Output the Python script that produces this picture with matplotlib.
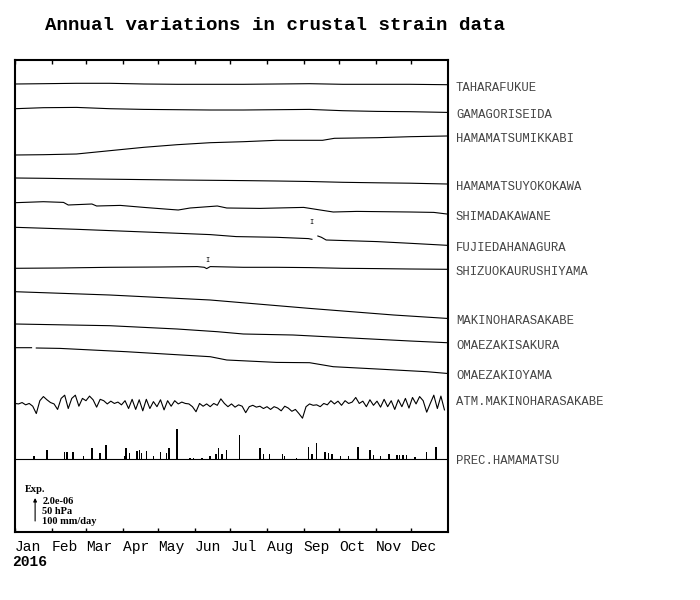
import numpy as np
import matplotlib
matplotlib.use("Agg")
import matplotlib.pyplot as plt
import matplotlib.transforms as mtransforms

# day-of-year month starts (2016 is a leap year)
month_names = ["Jan", "Feb", "Mar", "Apr", "May", "Jun",
               "Jul", "Aug", "Sep", "Oct", "Nov", "Dec"]
month_starts = [0, 31, 60, 91, 121, 152, 182, 213, 244, 274, 305, 335]

# strain traces: change from Jan 1, in plot units (23 units = 2.0e-06)
tahara_days = [0, 24, 52, 80, 109, 137, 165, 193, 221, 249, 277, 306, 334, 365]
tahara_vals = [0, 0.3, 0.7, 0.7, 0, -0.3, -0.3, -0.3, 0, 0.3, -0.3, -0.3, -0.3, -0.7]

gamagori_days = [0, 24, 52, 80, 109, 137, 165, 193, 221, 249, 277, 306, 334, 365]
gamagori_vals = [0, 1, 1.3, 0, -0.7, -1, -1.3, -1.3, -1, -0.7, -2, -2.7, -3, -3.7]

mikkabi_days = [0, 24, 52, 80, 109, 137, 165, 193, 221, 260, 270, 306, 334, 365]
mikkabi_vals = [0, 0.3, 1, 4.3, 7.7, 10.3, 12.3, 13.3, 14.7, 14.7, 16.7, 17.3, 18.3, 19]

yokokawa_days = [0, 24, 52, 80, 109, 137, 165, 193, 221, 249, 277, 306, 334, 365]
yokokawa_vals = [0, -0.3, -0.8, -1.2, -1.6, -2, -2.3, -2.6, -3, -3.5, -4.3, -4.8, -5.2, -6]

shimada_days = [0, 24, 41, 45, 65, 69, 89, 109, 131, 138, 148, 171, 179, 207,
                244, 258, 269, 289, 334, 354, 365]
shimada_vals = [0, 1, 0.3, -2.3, -1.3, -3.3, -2.7, -4.7, -6.7, -7.3, -5.3, -3.3,
                -5.3, -5.7, -4.7, -7.3, -9.3, -8.7, -9.3, -9.7, -11.3]

fujieda_days = [0, 52, 80, 123, 165, 187, 221, 248, 251, 253, 256, 259, 263, 306, 334, 365]
fujieda_vals = [0, -2, -3.3, -5.3, -7.3, -9.3, -10, -11.3, -12, np.nan,
                -8.7, -10, -12.7, -14.3, -16, -18]

urushiyama_days = [0, 38, 80, 123, 154, 160, 162, 165, 193, 221, 249, 277, 306, 334, 365]
urushiyama_vals = [0, 0.3, 1, 1.3, 1.7, 1, -0.3, 1.7, 1, 1, 0.7, 0, -0.3, -0.7, -1]

makino_days = [0, 80, 165, 249, 320, 365]
makino_vals = [0, -3.3, -8.3, -16.7, -23.3, -26.7]

sakura_days = [0, 80, 137, 171, 193, 235, 263, 306, 334, 365]
sakura_vals = [0, -1.7, -5, -7.7, -10, -11, -12.7, -15.3, -17, -18.7]

oyama_days = [0, 14, 16, 18, 38, 94, 165, 179, 221, 249, 269, 306, 348, 365]
oyama_vals = [0, 0, np.nan, -0.3, -0.7, -4, -9, -12.3, -14.7, -15, -19, -21.3, -24, -25.7]

# step markers ("I") on two traces: (day, level)
fujieda_step = (251, 5.3)
urushiyama_step = (163, 7.3)

# atmospheric pressure at Makinohara Sakabe, every 3 days (hPa)
atm_hpa = [1012, 1011, 1014, 1009, 1012, 1006, 990, 1018, 1027, 1020, 1014, 1011,
           999, 1023, 1030, 1001, 1023, 1030, 1006, 1023, 1018, 1028, 1020, 1004,
           1021, 1018, 1011, 1017, 1012, 1015, 1009, 1018, 1001, 1021, 999, 1020,
           996, 1021, 1001, 1016, 1005, 1020, 998, 1018, 1006, 1018, 1011, 1015,
           1012, 1011, 1005, 994, 1012, 1006, 1011, 1005, 1012, 1008, 1022, 1012,
           1005, 1011, 1004, 1009, 1006, 992, 1005, 1008, 1004, 1006, 1001, 1005,
           999, 1005, 1002, 996, 1006, 1002, 995, 999, 990, 980, 1005, 1011,
           1008, 1009, 1005, 1012, 1009, 1018, 1011, 1017, 1008, 1018, 1012, 1015,
           1025, 1012, 1017, 1005, 1020, 1008, 1017, 1004, 1021, 1005, 1018, 999,
           1020, 1005, 1023, 1002, 1025, 1011, 1027, 1018, 993, 1012, 1030, 1001,
           1028, 998]
atm_days = np.arange(0, 366, 3)

# daily precipitation at Hamamatsu (mm/day), rainy days only
prec_days = [16, 27, 42, 44, 49, 58, 65, 72, 77, 93, 94, 97, 103, 105, 107, 111,
             117, 123, 128, 130, 137, 148, 151, 158, 165, 170, 172, 175, 179, 190,
             207, 210, 215, 226, 228, 238, 248, 251, 255, 262, 265, 268, 275, 282,
             290, 300, 303, 309, 316, 323, 325, 328, 331, 338, 348, 356]
prec_mm = [9, 38, 30, 30, 30, 9, 46, 26, 58, 11, 44, 26, 32, 35, 23, 32,
           9, 30, 23, 44, 130, 3, 3, 3, 9, 21, 44, 21, 38, 104,
           47, 21, 18, 18, 11, 2, 52, 21, 69, 30, 25, 21, 11, 11,
           51, 35, 15, 11, 21, 16, 15, 16, 16, 7, 30, 49]

names = ["TAHARAFUKUE", "GAMAGORISEIDA", "HAMAMATSUMIKKABI", "HAMAMATSUYOKOKAWA",
         "SHIMADAKAWANE", "FUJIEDAHANAGURA", "SHIZUOKAURUSHIYAMA",
         "MAKINOHARASAKABE", "OMAEZAKISAKURA", "OMAEZAKIOYAMA"]
traces = [(tahara_days, tahara_vals), (gamagori_days, gamagori_vals),
          (mikkabi_days, mikkabi_vals), (yokokawa_days, yokokawa_vals),
          (shimada_days, shimada_vals), (fujieda_days, fujieda_vals),
          (urushiyama_days, urushiyama_vals), (makino_days, makino_vals),
          (sakura_days, sakura_vals), (oyama_days, oyama_vals)]

# layout: baseline of each row in plot units (bottom of panel = 0)
offsets = [448, 423.3, 377, 354, 329.3, 304.7, 263.7, 240.3, 208, 184.3]
atm_offset = 129
prec_offset = 73.5
scale_len = 23  # 2.0e-06 strain = 50 hPa = 100 mm/day

mono = "Liberation Mono"
label_color = "#444444"

fig = plt.figure(figsize=(7, 6), dpi=100)
ax = fig.add_axes([15 / 700, 68 / 600, 433 / 700, 472 / 600])

for (d, v), off, name in zip(traces, offsets, names):
    v = np.array(v, dtype=float)
    ax.plot(d, off + v, color="black", lw=0.8)
    ax.annotate(name, xy=(1, off + v[-1]), xycoords=("axes fraction", "data"),
                xytext=(8, -3), textcoords="offset pixels",
                ha="left", va="center", fontsize=8.8, family=mono, color=label_color)

# step markers
ax.text(fujieda_step[0], offsets[5] + fujieda_step[1], "I", ha="center", va="center",
        fontsize=5, family=mono, color="black")
ax.text(urushiyama_step[0], offsets[6] + urushiyama_step[1], "I", ha="center", va="center",
        fontsize=5, family=mono, color="black")

# pressure
atm = (np.array(atm_hpa) - 1013) * scale_len / 50
ax.plot(atm_days, atm_offset + atm, color="black", lw=0.8)
ax.annotate("ATM.MAKINOHARASAKABE", xy=(1, atm_offset), xycoords=("axes fraction", "data"),
            xytext=(8, 1), textcoords="offset pixels", ha="left", va="center",
            fontsize=8.8, family=mono, color=label_color)

# precipitation
ax.hlines(prec_offset, 0, 366, color="black", lw=0.8)
ax.bar(prec_days, np.array(prec_mm) * scale_len / 100, width=1.2, bottom=prec_offset,
       color="black", linewidth=0)
ax.annotate("PREC.HAMAMATSU", xy=(1, prec_offset), xycoords=("axes fraction", "data"),
            xytext=(8, -2), textcoords="offset pixels", ha="left", va="center",
            fontsize=8.8, family=mono, color=label_color)

# scale indicator
ax.annotate("", xy=(17, 11 + scale_len), xytext=(17, 11),
            arrowprops=dict(arrowstyle="-|>", lw=0.8, color="black",
                            mutation_scale=5, shrinkA=0, shrinkB=0))
ax.text(8, 43, "Exp.", fontsize=7.5, fontweight="bold", family="Liberation Serif",
        ha="left", va="center")
for i, s in enumerate(["2.0e-06", "50 hPa", "100 mm/day"]):
    ax.text(23, 30 - i * 10, s, fontsize=7.5, fontweight="bold",
            family="Liberation Serif", ha="left", va="center")

ax.set_xlim(0, 366)
ax.set_ylim(0, 472)
ax.set_yticks([])
ax.set_xticks(month_starts)
ax.set_xticklabels(month_names, family=mono, fontsize=10.5, ha="left")
shift = mtransforms.ScaledTranslation(-3 / 100, 0, fig.dpi_scale_trans)
for lab in ax.get_xticklabels():
    lab.set_transform(lab.get_transform() + shift)
ax.tick_params(axis="x", direction="in", length=3, width=1, top=True, pad=6)
for sp in ax.spines.values():
    sp.set_linewidth(1.5)

fig.text(12 / 700, 1 - 562 / 600, "2016", family=mono, fontsize=10.5,
         fontweight="bold", ha="left", va="center")
fig.text(45 / 700, 1 - 25 / 600, "Annual variations in crustal strain data",
         family=mono, fontsize=13.8, fontweight="bold", ha="left", va="center")

fig.savefig("out.png", dpi=100)
